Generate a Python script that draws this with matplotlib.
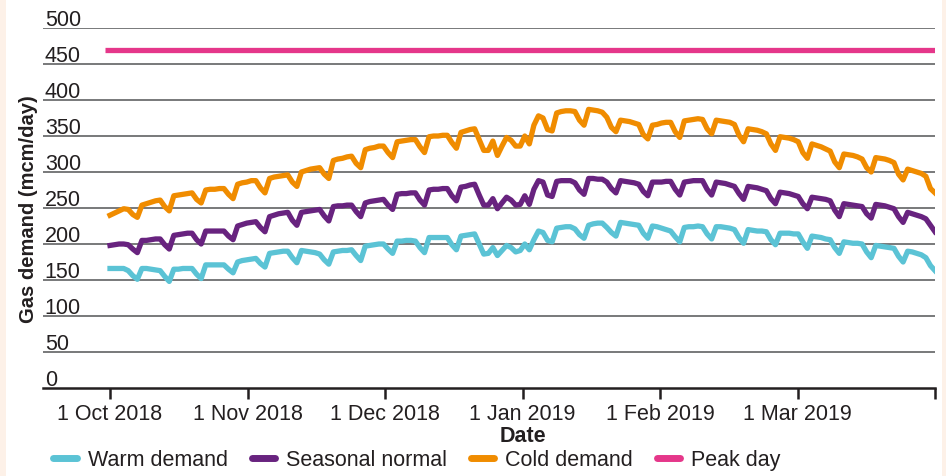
import matplotlib.pyplot as plt
from matplotlib.patches import Rectangle
from matplotlib.lines import Line2D
from matplotlib.transforms import blended_transform_factory

# daily gas demand, 1 Oct 2018 (Mon) to 31 Mar 2019, one row per week
warm_demand = [
    166, 166, 166, 166, 163, 156, 151,
    166, 166, 165, 164, 163, 155, 148,
    165, 165, 166, 166, 166, 158, 152,
    171, 171, 171, 171, 171, 165, 160,
    175, 177, 178, 179, 180, 173, 168,
    187, 188, 189, 190, 190, 181, 174,
    191, 190, 189, 188, 186, 178, 172,
    189, 190, 191, 191, 192, 184, 177,
    197, 198, 199, 200, 200, 193, 187,
    204, 204, 205, 205, 204, 195, 188,
    209, 209, 209, 209, 209, 199, 192,
    211, 212, 213, 214, 200, 186, 187,
    195, 184, 191, 198, 195, 189, 191,
    200, 192, 206, 218, 216, 205, 203,
    222, 223, 224, 224, 221, 213, 208,
    226, 228, 229, 229, 223, 216, 211,
    230, 229, 228, 227, 226, 215, 208,
    225, 224, 222, 220, 218, 210, 203,
    223, 224, 224, 225, 224, 214, 207,
    224, 224, 223, 222, 220, 209, 201,
    220, 219, 218, 218, 217, 206, 199,
    215, 215, 215, 214, 214, 203, 194,
    211, 210, 209, 207, 206, 195, 187,
    203, 202, 201, 201, 200, 189, 181,
    198, 197, 196, 195, 194, 183, 175,
    190, 189, 187, 185, 181, 170, 163,
]

seasonal_normal = [
    198, 199, 200, 200, 199, 193, 188,
    205, 205, 206, 207, 207, 199, 193,
    212, 213, 214, 215, 215, 206, 200,
    218, 218, 218, 218, 218, 211, 206,
    225, 227, 229, 230, 231, 223, 217,
    238, 240, 242, 243, 244, 233, 226,
    244, 245, 246, 247, 248, 239, 232,
    252, 253, 253, 254, 254, 245, 238,
    257, 259, 260, 261, 262, 254, 248,
    269, 270, 270, 271, 271, 261, 254,
    275, 276, 276, 277, 277, 267, 260,
    279, 280, 282, 283, 268, 254, 254,
    263, 249, 257, 265, 261, 254, 255,
    267, 255, 276, 288, 286, 268, 266,
    287, 288, 288, 288, 285, 275, 269,
    291, 291, 290, 290, 286, 277, 271,
    288, 287, 286, 285, 283, 273, 267,
    286, 286, 286, 287, 287, 276, 268,
    286, 287, 288, 288, 288, 276, 268,
    286, 285, 284, 282, 280, 270, 262,
    280, 279, 278, 276, 274, 263, 256,
    272, 271, 270, 268, 266, 256, 249,
    265, 264, 263, 262, 260, 247, 238,
    256, 255, 254, 253, 252, 242, 236,
    255, 254, 253, 251, 249, 238, 230,
    244, 242, 240, 238, 235, 226, 217,
]

cold_demand = [
    240, 243, 246, 249, 248, 241, 237,
    254, 256, 258, 260, 261, 252, 246,
    267, 268, 269, 270, 271, 262, 257,
    275, 276, 276, 277, 277, 269, 263,
    283, 285, 286, 288, 288, 278, 271,
    291, 293, 294, 295, 296, 286, 280,
    300, 302, 304, 305, 306, 297, 291,
    316, 318, 319, 321, 322, 312, 306,
    331, 333, 334, 336, 336, 327, 320,
    342, 343, 344, 345, 345, 335, 327,
    349, 350, 350, 351, 351, 341, 333,
    355, 357, 359, 360, 345, 330, 330,
    343, 323, 336, 348, 344, 336, 336,
    350, 339, 365, 378, 375, 359, 357,
    382, 384, 385, 385, 384, 372, 365,
    387, 386, 385, 383, 376, 362, 356,
    372, 371, 370, 368, 366, 352, 346,
    365, 366, 368, 369, 369, 356, 348,
    371, 372, 373, 374, 373, 360, 353,
    372, 371, 370, 369, 366, 351, 342,
    360, 359, 358, 356, 353, 339, 330,
    349, 348, 347, 345, 342, 327, 319,
    339, 337, 335, 332, 329, 314, 306,
    325, 324, 323, 321, 318, 306, 300,
    320, 319, 318, 316, 313, 297, 289,
    304, 302, 300, 298, 294, 277, 271,
]

peak_day = 470

month_labels = ['1 Oct 2018', '1 Nov 2018', '1 Dec 2018', '1 Jan 2019',
                '1 Feb 2019', '1 Mar 2019', '']
y_ticks = [0, 50, 100, 150, 200, 250, 300, 350, 400, 450, 500]

colors = {
    'Warm demand': '#5bc3d5',
    'Seasonal normal': '#68237f',
    'Cold demand': '#f08c00',
    'Peak day': '#e5378a',
}

plt.rcParams['font.family'] = ['Liberation Sans', 'DejaVu Sans']
text_color = '#231f20'
fs = 15.5

fig = plt.figure(figsize=(9.46, 4.77), dpi=100, facecolor='#fdf1e8')
fig.patches.append(Rectangle((6 / 946, 0), 936 / 946, 1, transform=fig.transFigure,
                             facecolor='white', edgecolor='none', zorder=-10))

ax = fig.add_axes([43 / 946, 88 / 477, 892 / 946, 360 / 477])
ax.set_facecolor('none')

days = list(range(len(cold_demand)))
last = days[-1]

for y in y_ticks[1:]:
    ax.axhline(y, color='#6d6e70', lw=1.3, zorder=1)

lw = 3.8
ax.plot(days, warm_demand, color=colors['Warm demand'], lw=lw, zorder=3, solid_joinstyle='round')
ax.plot(days, seasonal_normal, color=colors['Seasonal normal'], lw=lw, zorder=3, solid_joinstyle='round')
ax.plot(days, cold_demand, color=colors['Cold demand'], lw=lw, zorder=3, solid_joinstyle='round')
ax.hlines(peak_day, days[0] - 1, last, color=colors['Peak day'], lw=lw, zorder=3)

ax.set_xlim(-14.7, last)
ax.set_ylim(0, 500)

for s in ['top', 'right', 'left']:
    ax.spines[s].set_visible(False)
ax.spines['bottom'].set_linewidth(1.8)
ax.spines['bottom'].set_color('#231f20')

step = last / 6
ax.set_xticks([i * step for i in range(7)])
ax.set_xticklabels(month_labels, fontsize=fs, color=text_color)
ax.tick_params(axis='x', length=8, width=1.8, color='#231f20', pad=3)
ax.set_yticks([])

for v in y_ticks:
    ax.annotate(str(v), xy=(0.002, v), xycoords=('axes fraction', 'data'),
                xytext=(0, 2), textcoords='offset points',
                ha='left', va='baseline', fontsize=fs, color=text_color)

ax.text(-0.0165, 0.5, 'Gas demand (mcm/day)', transform=ax.transAxes, rotation=90,
        ha='center', va='center', fontsize=14.5, fontweight='bold', color=text_color)

trans = blended_transform_factory(ax.transData, fig.transFigure)
ax.text(last / 2, 1 - 437 / 477, 'Date', transform=trans, ha='center', va='center',
        fontsize=fs, fontweight='bold', color=text_color)

handles = [Line2D([], [], color=c, lw=5, solid_capstyle='round') for c in colors.values()]
fig.legend(handles, list(colors.keys()), loc='center left',
           bbox_to_anchor=(34 / 946, 1 - 461 / 477), ncol=4, frameon=False,
           fontsize=fs, handlelength=1.1, handletextpad=0.5, columnspacing=1.1,
           labelcolor=text_color)

fig.savefig('out.png', dpi=100, facecolor=fig.get_facecolor())
